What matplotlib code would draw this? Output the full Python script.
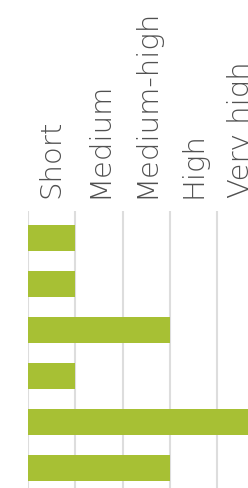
import matplotlib
matplotlib.use("Agg")
import matplotlib.pyplot as plt
from matplotlib.ticker import FixedLocator

categories = ["Short", "Medium", "Medium-high", "High", "Very high"]
rows = ["r1", "r2", "r3", "r4", "r5", "r6"]
values = [1, 1, 3, 1, 5, 3]

fig = plt.figure(figsize=(2.48, 4.89), dpi=100)
W, H = 248, 489
x0, unit = 28, 47.3
y_top, step = 211.5, 46.0
ax = fig.add_axes([x0 / W, 1 - (y_top + 6.2 * step) / H, 5 * unit / W, 6.2 * step / H])
ax.barh(range(len(values)), values, height=0.565, color="#a7c034", zorder=3)
ax.set_ylim(len(values) - 0.4, -0.6)
ax.set_xlim(0, 5)
ax.set_yticks([])
ax.xaxis.set_major_locator(FixedLocator([0, 1, 2, 3, 4, 5]))
ax.xaxis.set_minor_locator(FixedLocator([i + 0.5 for i in range(len(categories))]))
ax.xaxis.tick_top()
ax.set_xticklabels([])
ax.set_xticklabels(categories, minor=True, rotation=90, fontsize=21,
                   family=["DejaVu Sans"], fontweight="light", color="#505050")
ax.tick_params(axis="x", which="both", length=0, pad=10)
ax.grid(axis="x", which="major", color="#dddddd", linewidth=1.5, zorder=0)
for s in ax.spines.values():
    s.set_visible(False)
fig.savefig("out.png", dpi=100)
